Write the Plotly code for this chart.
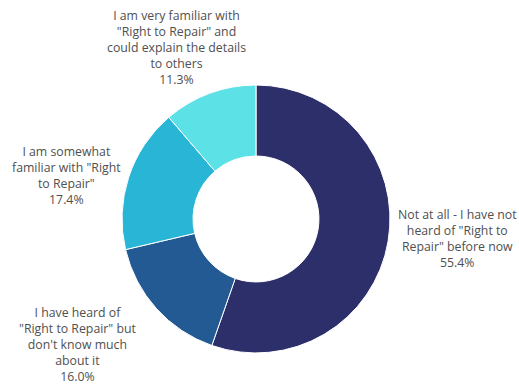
import plotly.graph_objects as go

categories = [
    "Not at all - I have not<br>heard of \"Right to<br>Repair\" before now",
    "I have heard of<br>\"Right to Repair\" but<br>don't know much<br>about it",
    "I am somewhat<br>familiar with \"Right<br>to Repair\"",
    "I am very familiar with<br>\"Right to Repair\" and<br>could explain the details<br>to others",
]
values = [55.4, 16.0, 17.4, 11.3]
colors = ["#2d2f6b", "#235a93", "#29b5d5", "#5ce1e6"]
label_pos = [(0.882, 0.385), (0.150, 0.110), (0.129, 0.5465), (0.341, 0.878)]

fig = go.Figure(go.Pie(
    labels=categories,
    values=values,
    sort=False,
    direction="clockwise",
    rotation=0,
    hole=0.47,
    marker=dict(colors=colors, line=dict(color="white", width=1)),
    textinfo="none",
    hoverinfo="label+percent",
    showlegend=False,
    domain=dict(x=[0.2351, 0.7514], y=[0.0879, 0.7804]),
))

for cat, val, (x, y) in zip(categories, values, label_pos):
    fig.add_annotation(
        x=x, y=y, xref="paper", yref="paper",
        text=f"{cat}<br>{val:.1f}%",
        showarrow=False, align="center",
        xanchor="center", yanchor="middle",
        font=dict(family="Open Sans", size=12.3, color="#505050"),
    )

fig.update_layout(
    width=519, height=387,
    margin=dict(l=0, r=0, t=0, b=0),
    paper_bgcolor="white", plot_bgcolor="white",
)
fig.write_html("out.html")
